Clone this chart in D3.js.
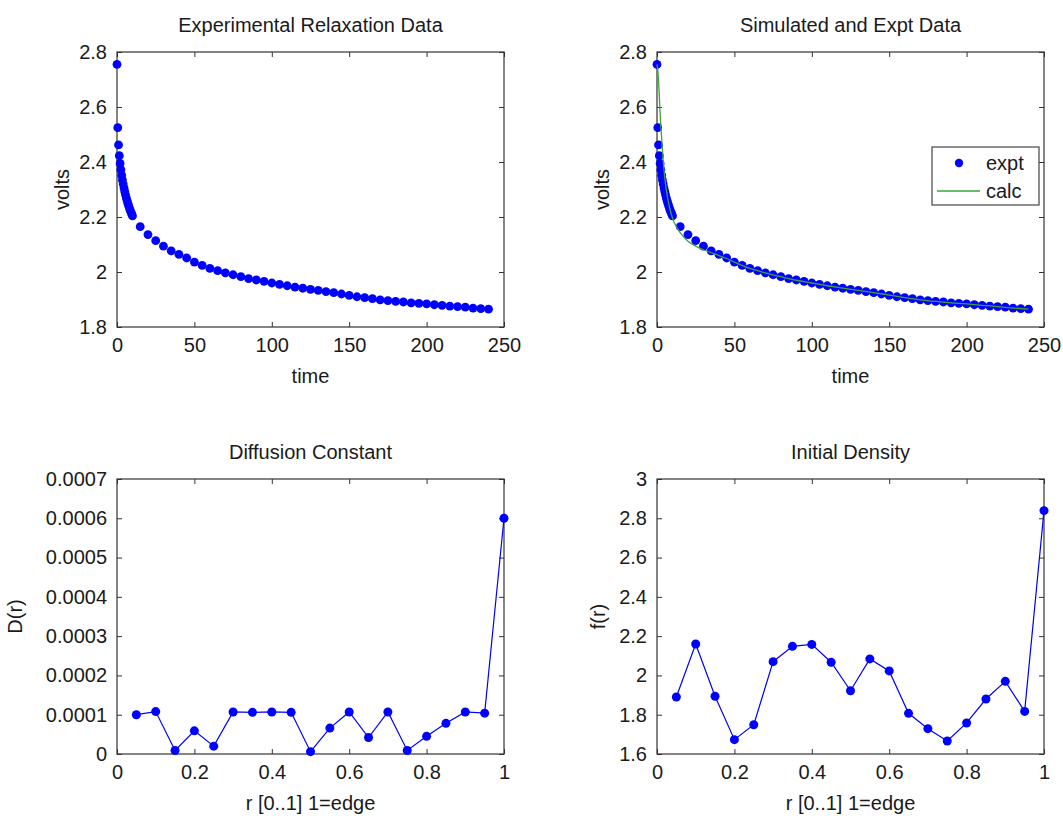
<!DOCTYPE html>
<html>
<head>
<meta charset="utf-8">
<script src="https://cdn.jsdelivr.net/npm/d3@7/dist/d3.min.js"></script>
<style>
  html, body { margin: 0; padding: 0; background: #fff; }
  svg { display: block; }
  text { font-family: "Liberation Sans", Arial, sans-serif; fill: #1a1a1a; }
</style>
</head>
<body>
<svg id="fig" width="1063" height="816"></svg>
<script>
// Relaxation measurement: time samples and measured voltage
const timeExpt = [0, 0.5, 1, 1.5, 2, 2.5, 3, 3.5, 4, 4.5, 5, 5.5, 6, 6.5, 7, 7.5, 8, 8.5, 9, 9.5, 10,
  15, 20, 25, 30, 35, 40, 45, 50, 55, 60, 65, 70, 75, 80, 85, 90, 95, 100,
  105, 110, 115, 120, 125, 130, 135, 140, 145, 150, 155, 160, 165, 170, 175, 180,
  185, 190, 195, 200, 205, 210, 215, 220, 225, 230, 235, 240];
const voltsExpt = [2.755, 2.525, 2.462, 2.423, 2.395, 2.372, 2.352, 2.335, 2.320, 2.306, 2.293, 2.281, 2.270, 2.260, 2.250, 2.241, 2.233, 2.225, 2.218, 2.211, 2.204,
  2.165, 2.136, 2.114, 2.094, 2.077, 2.064, 2.051, 2.036, 2.024, 2.013, 2.005, 1.997, 1.990, 1.983, 1.976, 1.971, 1.966, 1.960,
  1.955, 1.950, 1.945, 1.941, 1.937, 1.933, 1.929, 1.925, 1.920, 1.915, 1.910, 1.907, 1.903, 1.899, 1.896, 1.893,
  1.891, 1.888, 1.886, 1.884, 1.881, 1.879, 1.876, 1.874, 1.872, 1.869, 1.867, 1.865];

// Simulated response from the fitted model
const timeCalc = [0, 0.5, 1, 1.5, 2, 3, 4, 5, 6, 8, 10, 12.5, 15, 20, 25, 30, 35, 40, 45, 50,
  60, 70, 80, 90, 100, 110, 120, 130, 140, 150, 160, 170, 180, 190, 200, 210, 220, 230, 240];
const voltsCalc = [2.755, 2.735, 2.695, 2.640, 2.580, 2.485, 2.405, 2.345, 2.300, 2.238, 2.196, 2.165, 2.143, 2.112, 2.094, 2.081, 2.070, 2.060, 2.049, 2.036,
  2.013, 1.997, 1.983, 1.970, 1.960, 1.950, 1.941, 1.933, 1.925, 1.916, 1.907, 1.899, 1.893, 1.888, 1.884, 1.879, 1.874, 1.869, 1.865];

// Fitted radial profiles, r in [0..1], 1 = edge
const rGrid = [0.05, 0.1, 0.15, 0.2, 0.25, 0.3, 0.35, 0.4, 0.45, 0.5,
  0.55, 0.6, 0.65, 0.7, 0.75, 0.8, 0.85, 0.9, 0.95, 1.0];
const diffusionD = [0.000100, 0.000108, 0.000009, 0.000059, 0.000020, 0.000107, 0.000106, 0.000107, 0.000106, 0.000006,
  0.000066, 0.000107, 0.000042, 0.000107, 0.000009, 0.000045, 0.000078, 0.000107, 0.000104, 0.000600];
const densityF = [1.890, 2.160, 1.894, 1.673, 1.749, 2.070, 2.148, 2.158, 2.067, 1.922,
  2.084, 2.023, 1.807, 1.729, 1.666, 1.758, 1.880, 1.970, 1.817, 2.839];

// Tick values
const timeTicks = [0, 50, 100, 150, 200, 250];
const voltTicks = [1.8, 2, 2.2, 2.4, 2.6, 2.8];
const rTicks = [0, 0.2, 0.4, 0.6, 0.8, 1];
const dTicks = [0, 0.0001, 0.0002, 0.0003, 0.0004, 0.0005, 0.0006, 0.0007];
const fTicks = [1.6, 1.8, 2, 2.2, 2.4, 2.6, 2.8, 3];

const svg = d3.select("#fig");
const W = 387, H = 275;
const FS = 20;
const BLUE = "#0000ff";
const GREEN = "#3aa53a";
const trim = d => String(+d.toFixed(4));

function panel(left, top, opt) {
  const g = svg.append("g").attr("transform", `translate(${left},${top})`);
  const x = d3.scaleLinear().domain(opt.xDomain).range([0, W]);
  const y = d3.scaleLinear().domain(opt.yDomain).range([H, 0]);
  const tl = 5;

  // axes with inward ticks, mirrored on top and right
  const gx = g.append("g").attr("transform", `translate(0,${H})`)
    .call(d3.axisBottom(x).tickValues(opt.xTicks).tickSize(-tl).tickPadding(tl + 9).tickFormat(opt.xFmt));
  const gy = g.append("g")
    .call(d3.axisLeft(y).tickValues(opt.yTicks).tickSize(-tl).tickPadding(tl + 5).tickFormat(opt.yFmt));
  const gxt = g.append("g")
    .call(d3.axisTop(x).tickValues(opt.xTicks).tickSize(-tl).tickFormat(""));
  const gyr = g.append("g").attr("transform", `translate(${W},0)`)
    .call(d3.axisRight(y).tickValues(opt.yTicks).tickSize(-tl).tickFormat(""));
  [gx, gy, gxt, gyr].forEach(a => {
    a.select(".domain").remove();
    a.selectAll(".tick line").attr("stroke", "#333").attr("stroke-width", 1);
    a.selectAll(".tick text").style("font-size", FS + "px").attr("fill", "#1a1a1a");
  });
  gx.selectAll(".tick text").attr("dy", "0.55em");

  g.append("rect").attr("x", 0).attr("y", 0).attr("width", W).attr("height", H)
    .attr("fill", "none").attr("stroke", "#333").attr("stroke-width", 1.2);

  g.append("text").attr("x", W / 2).attr("y", -20).attr("text-anchor", "middle")
    .style("font-size", FS + "px").text(opt.title);
  g.append("text").attr("x", W / 2).attr("y", H + 56).attr("text-anchor", "middle")
    .style("font-size", FS + "px").text(opt.xLabel);
  g.append("text").attr("transform", `translate(${opt.yLabelX},${H / 2}) rotate(-90)`)
    .attr("text-anchor", "middle").style("font-size", FS + "px").text(opt.yLabel);

  return { g, x, y };
}

// Experimental relaxation data
{
  const p = panel(117, 52, {
    xDomain: [0, 250], yDomain: [1.8, 2.8], xTicks: timeTicks, yTicks: voltTicks,
    xFmt: trim, yFmt: trim, title: "Experimental Relaxation Data", xLabel: "time", yLabel: "volts", yLabelX: -48
  });
  p.g.selectAll("circle.pt").data(timeExpt).join("circle").attr("class", "pt")
    .attr("cx", (d) => p.x(d)).attr("cy", (d, i) => p.y(voltsExpt[i])).attr("r", 4.4).attr("fill", BLUE);
}

// Simulated vs experimental
{
  const p = panel(657, 52, {
    xDomain: [0, 250], yDomain: [1.8, 2.8], xTicks: timeTicks, yTicks: voltTicks,
    xFmt: trim, yFmt: trim, title: "Simulated and Expt Data", xLabel: "time", yLabel: "volts", yLabelX: -48
  });
  p.g.selectAll("circle.pt").data(timeExpt).join("circle").attr("class", "pt")
    .attr("cx", (d) => p.x(d)).attr("cy", (d, i) => p.y(voltsExpt[i])).attr("r", 4.4).attr("fill", BLUE);
  const line = d3.line().x(d => p.x(d[0])).y(d => p.y(d[1])).curve(d3.curveMonotoneX);
  p.g.append("path").datum(timeCalc.map((t, i) => [t, voltsCalc[i]]))
    .attr("d", line).attr("fill", "none").attr("stroke", GREEN).attr("stroke-width", 1.3);

  // legend
  const lg = p.g.append("g").attr("transform", "translate(275,95)");
  lg.append("rect").attr("x", 0).attr("y", 0).attr("width", 107).attr("height", 58)
    .attr("fill", "#fff").attr("stroke", "#444").attr("stroke-width", 1.2);
  lg.append("circle").attr("cx", 27).attr("cy", 16).attr("r", 4.2).attr("fill", BLUE);
  lg.append("text").attr("x", 54).attr("y", 23).style("font-size", FS + "px").text("expt");
  lg.append("line").attr("x1", 5).attr("x2", 48).attr("y1", 44).attr("y2", 44)
    .attr("stroke", GREEN).attr("stroke-width", 1.3);
  lg.append("text").attr("x", 54).attr("y", 51).style("font-size", FS + "px").text("calc");
}

// Diffusion constant
{
  const p = panel(117, 479, {
    xDomain: [0, 1], yDomain: [0, 0.0007], xTicks: rTicks, yTicks: dTicks,
    xFmt: trim, yFmt: d => d === 0 ? "0" : d.toFixed(4), title: "Diffusion Constant",
    xLabel: "r [0..1] 1=edge", yLabel: "D(r)", yLabelX: -95
  });
  const line = d3.line().x(d => p.x(d[0])).y(d => p.y(d[1]));
  const pts = rGrid.map((r, i) => [r, diffusionD[i]]);
  p.g.append("path").datum(pts).attr("d", line).attr("fill", "none").attr("stroke", BLUE).attr("stroke-width", 1.2);
  p.g.selectAll("circle.pt").data(pts).join("circle").attr("class", "pt")
    .attr("cx", d => p.x(d[0])).attr("cy", d => p.y(d[1])).attr("r", 4.5).attr("fill", BLUE);
}

// Initial density
{
  const p = panel(657, 479, {
    xDomain: [0, 1], yDomain: [1.6, 3], xTicks: rTicks, yTicks: fTicks,
    xFmt: trim, yFmt: trim, title: "Initial Density",
    xLabel: "r [0..1] 1=edge", yLabel: "f(r)", yLabelX: -52
  });
  const line = d3.line().x(d => p.x(d[0])).y(d => p.y(d[1]));
  const pts = rGrid.map((r, i) => [r, densityF[i]]);
  p.g.append("path").datum(pts).attr("d", line).attr("fill", "none").attr("stroke", BLUE).attr("stroke-width", 1.2);
  p.g.selectAll("circle.pt").data(pts).join("circle").attr("class", "pt")
    .attr("cx", d => p.x(d[0])).attr("cy", d => p.y(d[1])).attr("r", 4.5).attr("fill", BLUE);
}
</script>
</body>
</html>
